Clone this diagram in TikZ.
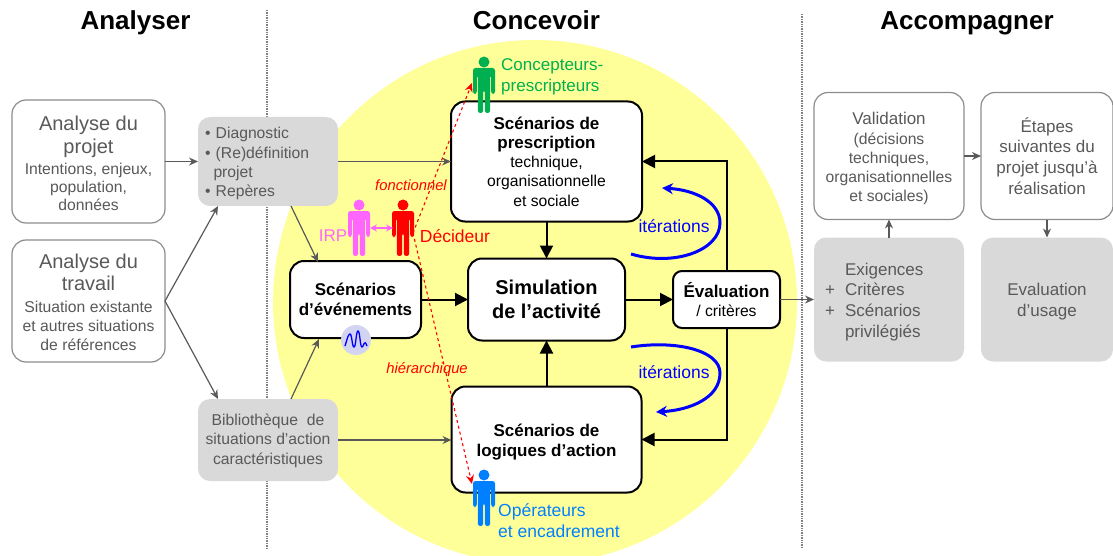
\documentclass[tikz,border=0pt]{standalone}
\usepackage{fontspec}
\setmainfont{Liberation Sans}
\usepackage{xcolor}
\usetikzlibrary{positioning}
\usetikzlibrary{arrows.meta}
\definecolor{jaune}{HTML}{FFFF99}
\definecolor{grisfond}{HTML}{D9D9D9}
\definecolor{gristexte}{HTML}{595959}
\definecolor{vert}{HTML}{00B050}
\definecolor{bleuop}{HTML}{0080FF}
\definecolor{rose}{HTML}{FF66FF}
\definecolor{lavande}{HTML}{D3D3F2}
\newcommand{\tA}{\fontsize{20}{24}\selectfont}
\newcommand{\tB}{\bfseries\fontsize{17}{20.5}\selectfont}
\newcommand{\tC}{\fontsize{15.7}{19.3}\selectfont}
\newcommand{\tD}{\fontsize{17}{20.8}\selectfont}
\newcommand{\up}[1]{\rule{0pt}{#1pt}}
\tikzset{
  box/.style={draw=black,line width=2pt,rounded corners=14pt,fill=white,inner sep=0pt,outer sep=0pt,align=center,text=black,font=\tC},
  whitebox/.style={draw=gray!90,line width=1.2pt,rounded corners=14pt,fill=white,inner sep=0pt,outer sep=0pt,align=center,text=gristexte,font=\tC},
  greybox/.style={fill=grisfond,rounded corners=12pt,inner sep=0pt,outer sep=0pt,align=center,text=gristexte,font=\tC},
  title/.style={font=\bfseries\fontsize{26}{30}\selectfont,text=black,anchor=base},
  greyarrow/.style={draw=gristexte,line width=1.2pt,-{Stealth[length=9pt,width=8pt]}},
  blackarrow/.style={draw=black,line width=2pt,-{Triangle[length=13pt,width=13pt]}},
  redarrow/.style={draw=red,line width=1.1pt,dashed,-{Stealth[length=9pt,width=8pt]}},
  bluearrow/.style={draw=blue,line width=3pt,-{Stealth[length=11pt,width=11pt]}},
  separator/.style={draw=gray,line width=1.4pt,densely dotted},
  person/.pic={
    \fill (0,-24) circle (5.5);
    \fill[rounded corners=2.5pt] (-11,-18) -- (11,-18) -- (11,8) -- (7.2,8) -- (7.2,-11) -- (6.2,-11) -- (6.2,27) -- (0.8,27) -- (0.8,4) -- (-0.8,4) -- (-0.8,27) -- (-6.2,27) -- (-6.2,-11) -- (-7.2,-11) -- (-7.2,8) -- (-11,8) -- cycle;
  }
}
\begin{document}
\begin{tikzpicture}[x=1pt,y=-1pt]
\useasboundingbox (0,0) rectangle (1113,556);
\begin{scope}
\clip (0,0) rectangle (1113,556);
\fill[jaune] (535,302) circle (262);
\end{scope}
\draw[separator] (267,10) -- (267,548);
\draw[separator] (802,14) -- (802,548);
\node[title] (analyser) at (135.5,30) {Analyser};
\node[title] (concevoir) at (536.5,30) {Concevoir};
\node[title] (accompagner) at (967,30) {Accompagner};
% colonne de gauche
\node (anaprojet) [whitebox,minimum width=153pt,minimum height=123pt,font=\fontsize{15.7}{18}\selectfont] at (88.5,161.5) {\tA\up{18}Analyse du\\[4pt]\tA projet\\[3pt]Intentions, enjeux,\\population,\\données};
\node (anatravail) [whitebox,minimum width=153pt,minimum height=122pt,below=17pt of anaprojet,font=\fontsize{15.7}{19}\selectfont] {\tA\up{18}Analyse du\\[3pt]\tA travail\\[3pt]Situation existante\\et autres situations\\de références};
\node (diag) [greybox,minimum width=140pt,minimum height=89pt,right=33pt of anaprojet,text width=126pt,align=left] {\up{16}• Diagnostic\\• (Re)définition\\\hspace*{8.5pt}projet\\• Repères};
\node (biblio) [greybox,minimum width=140pt,minimum height=82pt] at (268,440) {\up{13}Bibliothèque~ de\\situations d’action\\caractéristiques};
% cercle central
\node (prescription) [box,minimum width=191pt,minimum height=120pt,right=113pt of diag] {\tB Scénarios de\\\tB prescription\\technique,\\organisationnelle\\et sociale};
\node (simulation) [box,minimum width=157pt,minimum height=82pt,below=37pt of prescription,font=\bfseries\fontsize{20}{24}\selectfont] {\up{15}Simulation\\de l’activité};
\node (logiques) [box,minimum width=190pt,minimum height=106pt,below=46pt of simulation,font=\tB] {\up{18}Scénarios de\\logiques d’action};
\node (evenements) [box,minimum width=131pt,minimum height=77pt,left=47pt of simulation,font=\tB] {Scénarios\\d’événements};
\node (evaluation) [box,rounded corners=9pt,minimum width=107pt,minimum height=57pt,right=48pt of simulation] {\tB Évaluation\\/ critères};
\node (bruit) [circle,fill=lavande,minimum size=30pt,inner sep=0pt] at (356,340) {};
\draw[blue,line width=1.3pt] (345,346) .. controls (347,340) and (348,334) .. (350,334) .. controls (352,334) and (352,347) .. (354,347) .. controls (356,347) and (356,331) .. (358,331) .. controls (360,331) and (360,347) .. (362,347) .. controls (364,347) and (364,338) .. (367,346);
% colonne de droite
\node (exigences) [greybox,minimum width=150pt,minimum height=124pt,right=34pt of evaluation,font=\tD,text width=128pt,align=left] {\up{17}\hspace*{20pt}Exigences\\\makebox[20pt][l]{+}Critères\\\makebox[20pt][l]{+}Scénarios\\\hspace*{20pt}privilégiés};
\node (validation) [whitebox,minimum width=150pt,minimum height=127pt,above=18pt of exigences] {\tD\up{18}Validation\\(décisions\\techniques,\\organisationnelles\\et sociales)};
\node (etapes) [whitebox,minimum width=132pt,minimum height=127pt,right=17pt of validation,font=\tD] {Étapes\\suivantes du\\projet jusqu’à\\réalisation};
\node (usage) [greybox,minimum width=132pt,minimum height=124pt,right=17pt of exigences,font=\tD] {\up{17}Evaluation\\d’usage};
% fleches grises
\draw[greyarrow] (anaprojet) -- (diag);
\draw[greyarrow] (anatravail.east) -- (218,206);
\draw[greyarrow] (anatravail.east) -- (218,399);
\draw[greyarrow] (diag) -- (diag -| prescription.west);
\draw[greyarrow] (291,206) -- (318,262);
\draw[greyarrow] (291,399) -- (319,339);
\draw[greyarrow] (biblio) -- (biblio -| logiques.west);
\draw[greyarrow] (evaluation) -- (exigences);
\draw[greyarrow] (exigences.north) -- (validation.south);
\draw[greyarrow] (validation.east) -- (etapes.west);
\draw[greyarrow] (etapes.south) -- (usage.north);
% fleches noires
\draw[blackarrow] (prescription) -- (simulation);
\draw[blackarrow] (logiques) -- (simulation);
\draw[blackarrow] (evenements) -- (simulation);
\draw[blackarrow] (simulation) -- (evaluation);
\draw[blackarrow] (evaluation.north) -- (evaluation.north |- prescription.east) -- (prescription.east);
\draw[blackarrow] (evaluation.south) -- (evaluation.south |- logiques.east) -- (logiques.east);
% iterations
\draw[bluearrow] (631,254) .. controls (675,267) and (720,250) .. (720,223) .. controls (720,202) and (695,190) .. (662,188);
\draw[bluearrow] (631,347) .. controls (675,340) and (720,350) .. (720,373) .. controls (720,398) and (690,410) .. (656,412);
\node (iter1) [text=blue,font=\fontsize{17.5}{21}\selectfont] at (674,226) {itérations};
\node (iter2) [text=blue,font=\fontsize{17.5}{21}\selectfont] at (674,372) {itérations};
% acteurs
\pic[color=vert] at (484,86) {person};
\pic[color=rose] at (359,229) {person};
\pic[color=red] at (403,229) {person};
\pic[color=bleuop] at (484,499) {person};
\coordinate (decideur) at (413,233);
\coordinate (concepteur) at (472,83);
\coordinate (operateur) at (472,484);
\draw[redarrow] (decideur) -- (concepteur);
\draw[redarrow] (decideur) -- (operateur);
\draw[draw=rose,line width=1.1pt,{Stealth[length=7pt,width=7pt]}-{Stealth[length=7pt,width=7pt]}] (370,228) -- (393,228);
\node (fonct) [text=red,font=\itshape\fontsize{14.8}{17}\selectfont] at (411,185) {fonctionnel};
\node (hier) [text=red,font=\itshape\fontsize{14.8}{17}\selectfont] at (427,370) {hiérarchique};
\node (irp) [text=rose,font=\tD] at (333,236) {IRP};
\node (dec) [text=red,font=\fontsize{17.5}{21}\selectfont] at (455,236) {Décideur};
\node (conc) [text=vert,align=left,anchor=west,font=\tD,inner sep=0pt] at (501,77) {Concepteurs-\\prescripteurs};
\node (oper) [text=bleuop,align=left,anchor=west,font=\fontsize{17.5}{21}\selectfont,inner sep=0pt] at (498,521) {Opérateurs\\et encadrement};
\end{tikzpicture}
\end{document}
